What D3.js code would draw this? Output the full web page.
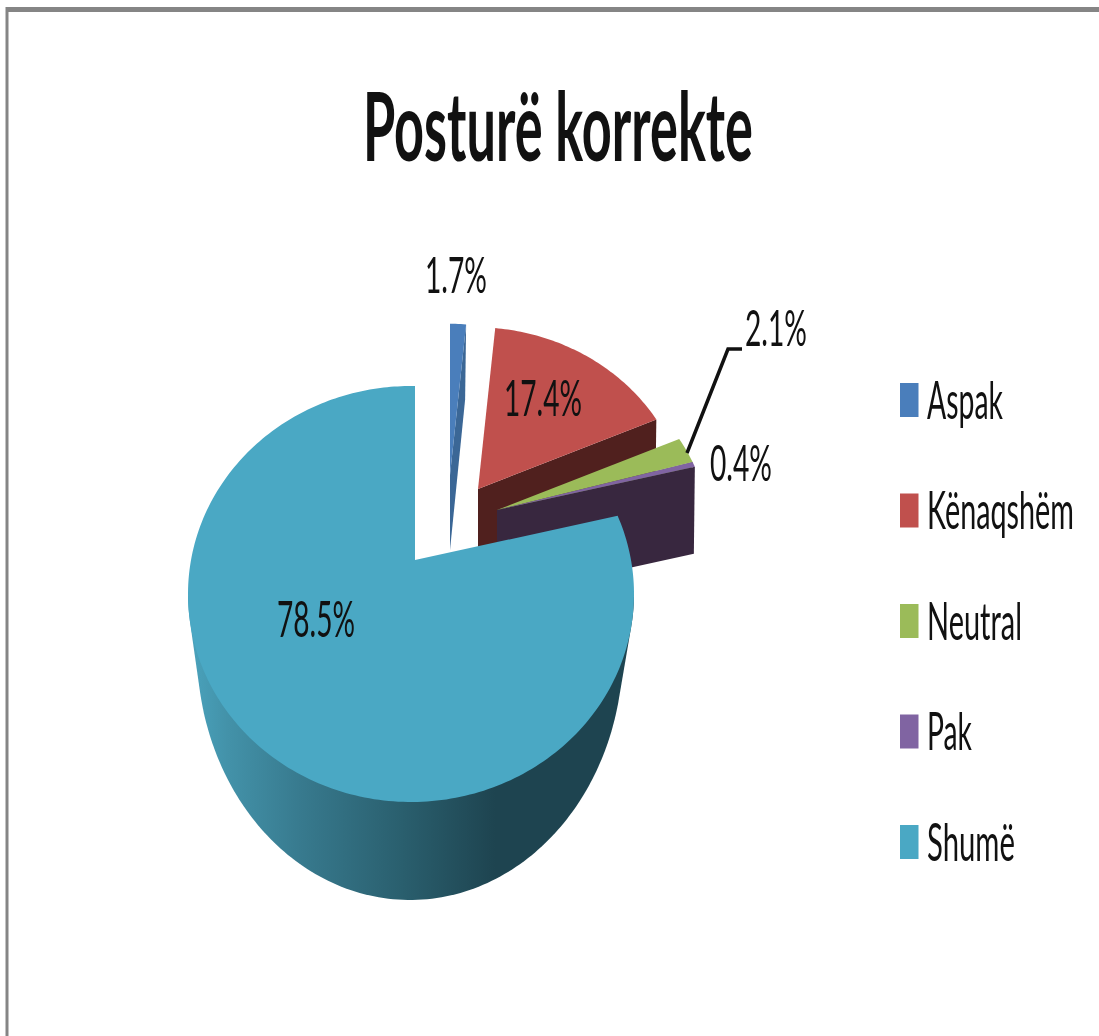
<!DOCTYPE html>
<html>
<head>
<meta charset="utf-8">
<script src="https://cdn.jsdelivr.net/npm/d3@7"></script>
<style>
  html, body { margin: 0; background: #fff; }
  svg { display: block; filter: blur(0.6px); }
  text { font-family: Lato, "Open Sans", sans-serif; fill: #111; }
</style>
</head>
<body>
<svg></svg>
<script>
const width = 1099;
const height = 1036;

// values as printed on the chart
const categories = ["Aspak", "Kënaqshëm", "Neutral", "Pak", "Shumë"];
const shares = [1.7, 17.4, 2.1, 0.4, 78.5];

const topColors = ["#4a7ebb", "#c0504d", "#9bbb59", "#8064a2", "#4aa8c4"];
const wallColors = ["#3b6796", "#50201e", "#5d7035", "#38273f", null];

// where the pulled out slices sit: tip of the wedge, size, and wall depth
const sliceFrames = [
  { ax: 450, ay: 475, scale: 0.87, wide: 1, drop: 75 },
  { ax: 478, ay: 489, scale: 0.93, wide: 1.03, drop: 75 },
  { ax: 497, ay: 510, scale: 0.95, wide: 1.03, drop: 6 },
  { ax: 497, ay: 510, scale: 0.95, wide: 1.03, drop: 87 },
  { ax: 415, ay: 560, scale: 1, wide: 1, drop: 0 }
];

// [x, baseline, width] of the percent labels
const labelSpots = [
  [425, 293, 62],
  [504, 416, 78],
  [745, 346, 62],
  [710, 481, 62],
  [277, 637, 78]
];
const legendWidths = [76, 147, 95, 45, 88];

const svg = d3.select("svg").attr("width", width).attr("height", height);

// squeeze a text sideways to the width it has in the picture
function fitText(sel, x, y, w) {
  sel.each(function (d, i) {
    const natural = this.getComputedTextLength();
    d3.select(this).attr("transform",
      `translate(${x(d, i)}, ${y(d, i)}) scale(${w(d, i) / natural}, 1)`);
  });
}

// grey picture frame, cut off on the right and at the bottom
svg.append("line")
  .attr("x1", 6).attr("x2", width).attr("y1", 9.5).attr("y2", 9.5)
  .attr("stroke", "#858585").attr("stroke-width", 5);
svg.append("line")
  .attr("x1", 7).attr("x2", 7).attr("y1", 7).attr("y2", height)
  .attr("stroke", "#858585").attr("stroke-width", 3);

svg.append("text")
  .attr("font-size", 96).attr("font-weight", 700)
  .text("Posturë korrekte")
  .call(fitText, () => 363, () => 161, () => 390);

const wallGradient = svg.append("defs").append("linearGradient")
  .attr("id", "wall")
  .attr("gradientUnits", "userSpaceOnUse")
  .attr("x1", 188).attr("x2", 633).attr("y1", 0).attr("y2", 0);
[[0, "#4aa3bd"], [0.088, "#4392a9"], [0.26, "#37798d"], [0.48, "#2a5f6e"], [0.69, "#1e4450"], [1, "#1e4450"]]
  .forEach(s => wallGradient.append("stop").attr("offset", s[0]).attr("stop-color", s[1]));

const pie = d3.pie().sort(null).value(d => d).startAngle(0).endAngle(2 * Math.PI);
const arcs = pie(shares);
const deg = Math.PI / 180;

// top faces are seen in perspective, so the tip is not the middle of the ellipse
function ellipseOf(f) {
  return {
    ax: f.ax, ay: f.ay,
    cx: f.ax - 4 * f.scale, cy: f.ay + 34 * f.scale,
    rx: 223 * f.scale * f.wide, ry: 208 * f.scale
  };
}

// shoot a ray from the tip at the given angle and stop on the ellipse
function edgePoint(e, angle) {
  const dx = Math.sin(angle), dy = -Math.cos(angle);
  const ox = (e.ax - e.cx) / e.rx, oy = (e.ay - e.cy) / e.ry;
  const ux = dx / e.rx, uy = dy / e.ry;
  const a = ux * ux + uy * uy;
  const b = 2 * (ox * ux + oy * uy);
  const c = ox * ox + oy * oy - 1;
  const t = (-b + Math.sqrt(b * b - 4 * a * c)) / (2 * a);
  return [e.ax + t * dx, e.ay + t * dy];
}

function samples(a0, a1) {
  const n = Math.max(2, Math.ceil((a1 - a0) / 0.02));
  return d3.range(n + 1).map(i => a0 + (a1 - a0) * i / n);
}

const line = d3.line();
const pieGroup = svg.append("g");

arcs.forEach((d, i) => {
  const f = sliceFrames[i];
  const e = ellipseOf(f);
  const rim = samples(d.startAngle, d.endAngle).map(a => edgePoint(e, a));

  if (f.drop > 0) {
    // flat side wall under the closing edge of the wedge
    const end = rim[rim.length - 1];
    pieGroup.append("path")
      .attr("d", line([[f.ax, f.ay], end, [end[0] - 1, end[1] + f.drop], [f.ax, f.ay + f.drop]]) + "Z")
      .attr("fill", wallColors[i]);
  } else {
    // round wall of the big slice: hull of the near rim and a lower, narrower ellipse
    const lower = { ax: 415, ay: 656, cx: 410, cy: 650, rx: 213, ry: 250 };
    const outline = samples(80 * deg, 280 * deg).map(a => edgePoint(lower, a))
      .concat(samples(99 * deg, 261 * deg).map(a => edgePoint(e, a)));
    pieGroup.append("path")
      .attr("d", line(d3.polygonHull(outline)) + "Z")
      .attr("fill", "url(#wall)");
  }

  pieGroup.append("path")
    .attr("d", line([[f.ax, f.ay]].concat(rim)) + "Z")
    .attr("fill", topColors[i]);
});

// leader of the 2.1% label
svg.append("path")
  .attr("d", line([[687, 453], [728, 349], [742, 349]]))
  .attr("fill", "none").attr("stroke", "#111").attr("stroke-width", 3.5);

svg.append("g").selectAll("text")
  .data(shares)
  .join("text")
  .attr("font-size", 50)
  .text(d => d.toFixed(1) + "%")
  .call(fitText, (d, i) => labelSpots[i][0], (d, i) => labelSpots[i][1], (d, i) => labelSpots[i][2]);

const legendY = d3.scalePoint().domain(categories).range([400, 842]);
const legend = svg.append("g").selectAll("g")
  .data(categories)
  .join("g")
  .attr("transform", d => `translate(900, ${legendY(d)})`);
legend.append("rect")
  .attr("y", -17).attr("width", 18.5).attr("height", 34)
  .attr("fill", (d, i) => topColors[i]);
legend.append("text")
  .attr("font-size", 52)
  .text(d => d)
  .call(fitText, () => 27, () => 18.5, (d, i) => legendWidths[i]);
</script>
</body>
</html>
